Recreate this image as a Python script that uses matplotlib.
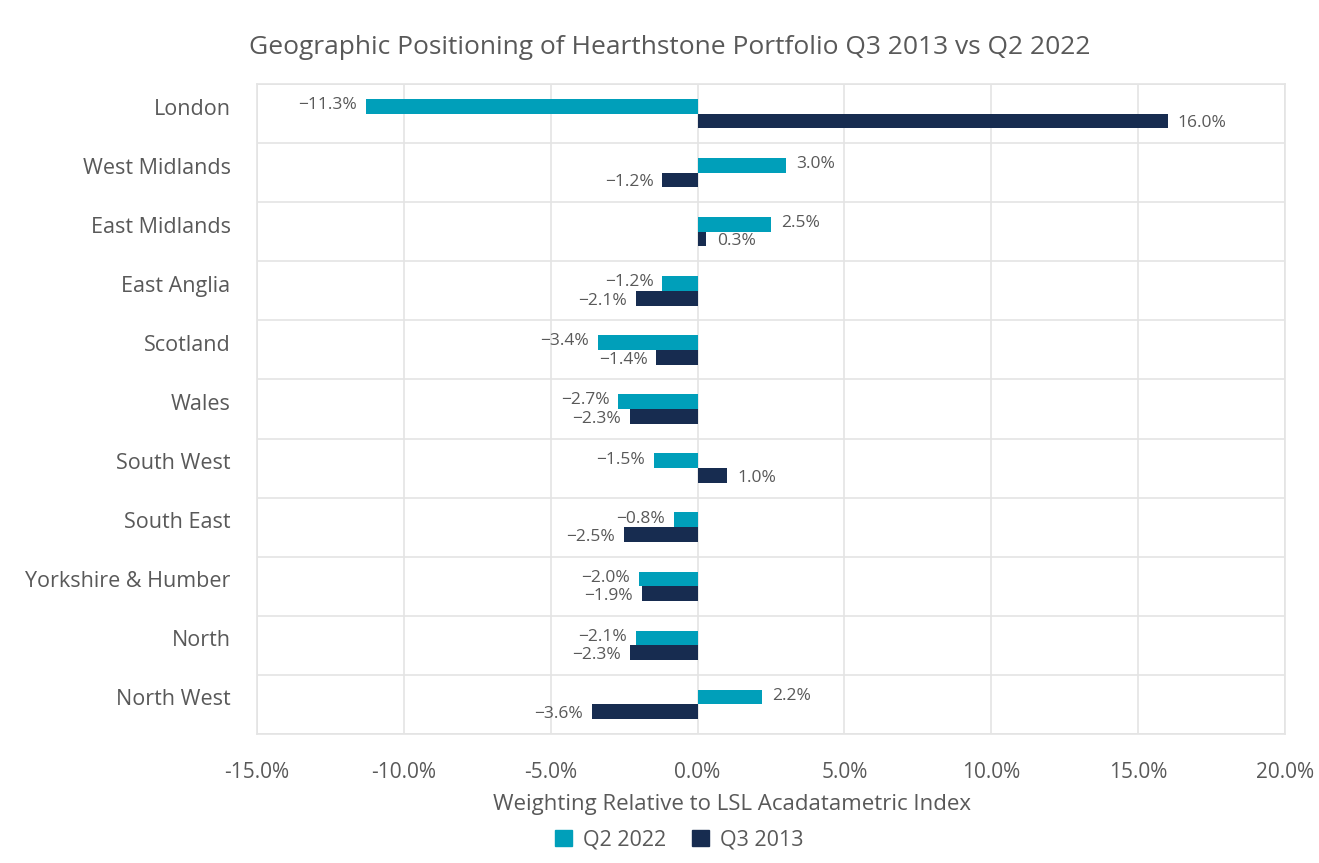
import numpy as np
import matplotlib.pyplot as plt
import matplotlib.transforms as mtransforms
from matplotlib.patches import Patch

regions = ["London", "West Midlands", "East Midlands", "East Anglia", "Scotland", "Wales",
           "South West", "South East", "Yorkshire & Humber", "North", "North West"]
q2_2022 = [-11.3, 3.0, 2.5, -1.2, -3.4, -2.7, -1.5, -0.8, -2.0, -2.1, 2.2]
q3_2013 = [16.0, -1.2, 0.3, -2.1, -1.4, -2.3, 1.0, -2.5, -1.9, -2.3, -3.6]
xticks = [-15, -10, -5, 0, 5, 10, 15, 20]

teal = "#009fba"
navy = "#172c50"
txt = "#595959"
grid = "#e4e4e4"

plt.rcParams['font.family'] = ['Open Sans', 'DejaVu Sans']

fig = plt.figure(figsize=(13.19, 8.63), dpi=100)
ax = fig.add_axes([257 / 1319, 1 - 734 / 863, 1028 / 1319, 650 / 863])

y = np.arange(len(regions))
h = 0.25
ax.barh(y - h / 2, q2_2022, height=h, color=teal, zorder=3)
ax.barh(y + h / 2, q3_2013, height=h, color=navy, zorder=3)


def fmt(v):
    s = "%.1f%%" % abs(v)
    return ("\u2212" + s) if v < 0 else s


# value labels just past the end of each bar
for vals, off in ((q2_2022, -h / 2 - 0.02), (q3_2013, h / 2 + 0.04)):
    for i, v in enumerate(vals):
        pad = 0.35 if v >= 0 else -0.3
        ax.text(v + pad, i + off, fmt(v), ha="left" if v >= 0 else "right",
                va="center", fontsize=12.5, color=txt, zorder=4)

ax.set_xlim(-15, 20)
ax.set_ylim(len(regions) - 0.5, -0.5)
ax.set_xticks(xticks)
ax.set_xticklabels(["%.1f%%" % t for t in xticks], fontsize=15, color=txt)
ax.set_yticks(y)
ax.set_yticklabels(regions, fontsize=15.5, color=txt)
ax.set_yticks(np.arange(len(regions) + 1) - 0.5, minor=True)
ax.tick_params(axis="both", which="both", length=0)
ax.tick_params(axis="y", pad=19)
ax.tick_params(axis="x", pad=20)
# category labels sit a bit above the row centre
shift = mtransforms.ScaledTranslation(0, 7 / 100, fig.dpi_scale_trans)
for lab in ax.get_yticklabels():
    lab.set_transform(lab.get_transform() + shift)
ax.grid(axis="x", color=grid, lw=1.2, zorder=0)
ax.grid(axis="y", which="minor", color=grid, lw=1.2, zorder=0)
ax.grid(axis="y", which="major", visible=False)
for s in ax.spines.values():
    s.set_color(grid)
    s.set_linewidth(1.2)

fig.text(670 / 1319, 1 - 47 / 863, "Geographic Positioning of Hearthstone Portfolio Q3 2013 vs Q2 2022",
         ha="center", va="center", fontsize=19, color=txt)
fig.text(732 / 1319, 1 - 804 / 863, "Weighting Relative to LSL Acadatametric Index",
         ha="center", va="center", fontsize=16, color=txt)

handles = [Patch(color=teal, label="Q2 2022"), Patch(color=navy, label="Q3 2013")]
fig.legend(handles=handles, loc="center", bbox_to_anchor=(679 / 1319, 1 - 840 / 863), ncol=2,
           frameon=False, fontsize=15.5, labelcolor=txt, handlelength=0.8, handleheight=0.8,
           handletextpad=0.5, columnspacing=1.2)

fig.savefig("out.png", dpi=100, facecolor="white")
